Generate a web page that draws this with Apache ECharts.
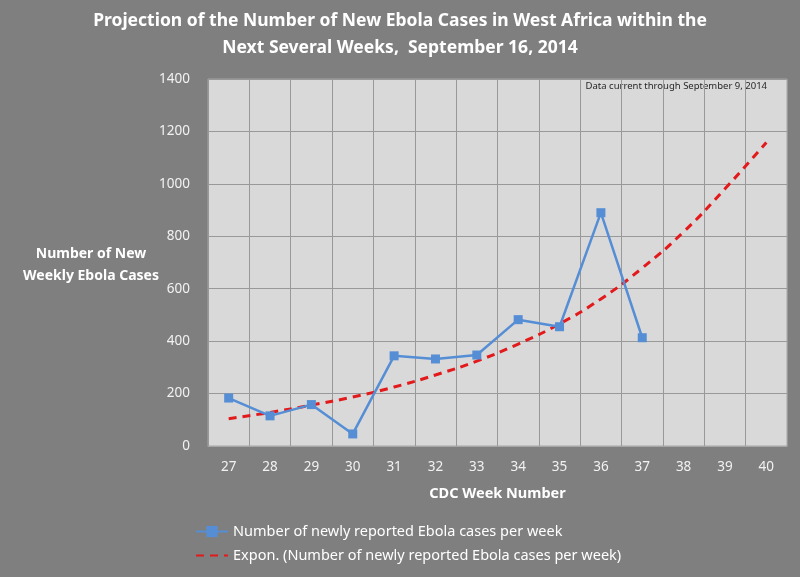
<!DOCTYPE html>
<html>
<head>
<meta charset="UTF-8">
<title>Ebola projection</title>
<script src="https://cdn.jsdelivr.net/npm/echarts@6/dist/echarts.min.js"></script>
<style>
  html, body { margin:0; padding:0; width:100%; height:100%; background:#7f7f7f; }
  #chart { width:800px; height:577px; }
</style>
</head>
<body>
<div id="chart"></div>
<script>
// week numbers on the x axis
var weeks = ['27','28','29','30','31','32','33','34','35','36','37','38','39','40'];
// newly reported cases (weeks 27-37)
var reported = [183, 115, 158, 46, 344, 332, 347, 482, 455, 890, 413];
// exponential trend line
var trend = [104, 128, 156, 187, 225, 271, 324, 389, 466, 561, 679, 817, 981, 1158];
var yTicks = { min: 0, max: 1400, step: 200 };

var chart = echarts.init(document.getElementById('chart'));
var font = 'Noto Sans';
var option = {
  backgroundColor: '#7f7f7f',
  textStyle: { fontFamily: font },
  title: {
    text: 'Projection of the Number of New Ebola Cases in West Africa within the\nNext Several Weeks,  September 16, 2014',
    left: 'center',
    top: 3,
    textStyle: { color: '#ffffff', fontSize: 17.5, fontWeight: 'bold', lineHeight: 27, fontFamily: font }
  },
  grid: {
    show: true,
    left: 208, right: 13, top: 79, bottom: 131,
    backgroundColor: '#d9d9d9',
    borderColor: '#a6a6a6',
    borderWidth: 1
  },
  legend: {
    orient: 'vertical',
    left: 190,
    top: 519,
    itemGap: 9,
    itemWidth: 32,
    itemHeight: 14,
    textStyle: { color: '#ffffff', fontSize: 14.5, fontFamily: font },
    data: [
      'Number of newly reported Ebola cases per week',
      { name: 'Expon. (Number of newly reported Ebola cases per week)', itemStyle: { opacity: 0 } }
    ]
  },
  xAxis: {
    type: 'category',
    data: weeks,
    boundaryGap: true,
    name: 'CDC Week Number',
    nameLocation: 'middle',
    nameGap: 40,
    nameTextStyle: { color: '#ffffff', fontSize: 14.5, fontWeight: 'bold', fontFamily: font },
    axisLine: { show: true, lineStyle: { color: '#a6a6a6' } },
    axisTick: { show: false },
    axisLabel: { color: '#f2f2f2', fontSize: 13.5, margin: 14 },
    splitLine: { show: true, lineStyle: { color: '#999999', width: 1 } }
  },
  yAxis: {
    type: 'value',
    min: yTicks.min,
    max: yTicks.max,
    interval: yTicks.step,
    axisLine: { show: false },
    axisTick: { show: false },
    axisLabel: { color: '#f2f2f2', fontSize: 13.5, margin: 18, formatter: function (v) { return String(v); } },
    splitLine: { show: true, lineStyle: { color: '#999999', width: 1 } }
  },
  graphic: [
    {
      type: 'text', x: 91, y: 243,
      style: {
        text: 'Number of New\nWeekly Ebola Cases',
        fill: '#ffffff', font: 'bold 14px "Noto Sans"', lineHeight: 22, align: 'center'
      }
    },
    {
      type: 'text', right: 33, top: 81,
      style: { text: 'Data current through September 9, 2014', fill: '#262626', font: '9.5px "Noto Sans"' }
    }
  ],
  series: [
    {
      name: 'Number of newly reported Ebola cases per week',
      type: 'line',
      data: reported,
      symbol: 'rect',
      symbolSize: 9,
      itemStyle: { color: '#558ed5' },
      lineStyle: { color: '#558ed5', width: 2.5 },
      z: 3
    },
    {
      name: 'Expon. (Number of newly reported Ebola cases per week)',
      type: 'line',
      data: trend,
      smooth: true,
      symbol: 'none',
      itemStyle: { color: '#e31a1c' },
      lineStyle: { color: '#e31a1c', width: 3, type: [8, 6] },
      z: 2
    }
  ]
};
chart.setOption(option);
</script>
</body>
</html>
